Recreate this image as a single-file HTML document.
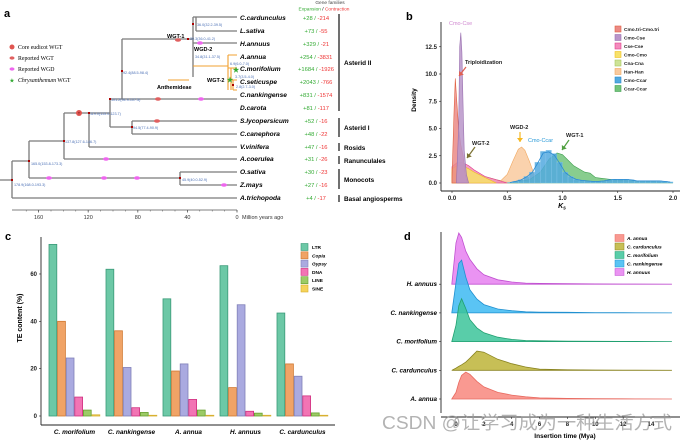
<!DOCTYPE html>
<html><head><meta charset="utf-8"><style>
html,body{margin:0;padding:0;background:#fff;}
svg{display:block;font-family:"Liberation Sans","Noto Sans CJK SC",sans-serif;}
.sp{font-weight:bold;font-style:italic;font-size:6.6px;}
.nl{font-size:3.7px;fill:#4a6fb5;}
.gf{font-size:5.8px;}
.cl{font-weight:bold;font-size:6.4px;}
.br{stroke:#7a7a7a;stroke-width:1.3;fill:none;}
.or{stroke:#f0a030;stroke-width:1.1;fill:none;}
.tk{font-size:6px;font-weight:bold;fill:#222;}
</style></head><body>
<svg id="fig" width="685" height="440" viewBox="0 0 685 440">
<g id="pa">
<text x="4" y="17" font-size="11" font-weight="bold">a</text>
<g>
<path class="br" d="M0 180H12M12 161V198M12 198H237M12 161H29M29 141V178M29 178H180M180 172V185M180 172H237M180 185H237M29 141H64M64 113V159M64 159H237M64 113H110M89 113V147M89 147H237M110 99V127M110 127H132M132 121V134M132 121H237M132 134H237M110 99H122M122 39V99M122 99H237M122 39H188M188 39H193M193 17V77M193 17H237M196 17V31M196 31H237M193 43H237"/>
<path class="or" d="M193 66H228M228 55V90M228 55H237M228 68H237M231 68V90M231 80H237M233 80V90M233 90H237M168 80H188"/>
</g>
<g>
<circle cx="79" cy="113" r="3" fill="#e05550"/><text x="79" y="114.5" font-size="4" text-anchor="middle" fill="#600">T</text>
<ellipse cx="178" cy="40" rx="3" ry="1.8" fill="#e06060"/>
<ellipse cx="200" cy="43" rx="3" ry="1.8" fill="#ee66ee"/>
<ellipse cx="158" cy="99" rx="3" ry="1.8" fill="#e06060"/>
<ellipse cx="201" cy="99" rx="3" ry="1.8" fill="#ee66ee"/>
<ellipse cx="157" cy="121" rx="3" ry="1.8" fill="#e06060"/>
<ellipse cx="106" cy="159" rx="3" ry="1.8" fill="#ee66ee"/>
<ellipse cx="49" cy="178" rx="3" ry="1.8" fill="#ee66ee"/>
<ellipse cx="104" cy="178" rx="3" ry="1.8" fill="#ee66ee"/>
<ellipse cx="137" cy="178" rx="3" ry="1.8" fill="#ee66ee"/>
<ellipse cx="224" cy="185" rx="3" ry="1.8" fill="#ee66ee"/>
<text x="236" y="72" font-size="7" fill="#3a3" text-anchor="middle">★</text>
<text x="230" y="82" font-size="7" fill="#3a3" text-anchor="middle">★</text>
<g fill="#a00"><rect x="11" y="179" width="2" height="2"/><rect x="28" y="160" width="2" height="2"/><rect x="63" y="140" width="2" height="2"/><rect x="88" y="112" width="2" height="2"/><rect x="109" y="98" width="2" height="2"/><rect x="121" y="70" width="2" height="2"/><rect x="131" y="126" width="2" height="2"/><rect x="179" y="177" width="2" height="2"/><rect x="187" y="38" width="2" height="2"/><rect x="192" y="23" width="2" height="2"/><rect x="232" y="84" width="2" height="2"/></g>
</g>
<g>
<text class="nl" x="197" y="26">36.0(32.2-39.5)</text>
<text class="nl" x="190" y="40">39.3(36.0-41.2)</text>
<text class="nl" x="195" y="58">34.8(31.1-37.5)</text>
<text class="nl" x="230" y="65">6.9(6.0-7.0)</text>
<text class="nl" x="235" y="78">3.7(3.5-4.0)</text>
<text class="nl" x="236" y="88">2.8(2.7-3.0)</text>
<text class="nl" x="123" y="74">92.4(88.5-98.4)</text>
<text class="nl" x="111" y="101">101.2(94.9-107.5)</text>
<text class="nl" x="90" y="115">119.0(115.0-123.7)</text>
<text class="nl" x="133" y="129">94.5(77.4-90.9)</text>
<text class="nl" x="65" y="143">137.8(127.6-146.7)</text>
<text class="nl" x="31" y="165">165.0(153.8-173.3)</text>
<text class="nl" x="14" y="186">178.9(168.0-193.3)</text>
<text class="nl" x="182" y="181">45.9(40.0-52.9)</text>
</g>
<g font-size="5.5" font-weight="bold">
<text x="167" y="38">WGT-1</text><text x="194" y="51">WGD-2</text><text x="207" y="82">WGT-2</text>
<line x1="168" y1="80" x2="189" y2="80" stroke="#f0a030" stroke-width="0.9"/>
<text x="157" y="89">Anthemideae</text>
</g>
<g font-family="Liberation Serif,serif" font-size="5.8">
<circle cx="12" cy="47" r="2.5" fill="#e05550"/><text x="18" y="49">Core eudicot WGT</text>
<ellipse cx="12" cy="58" rx="2.5" ry="1.6" fill="#e06060"/><text x="18" y="60">Reported WGT</text>
<ellipse cx="12" cy="69" rx="2.5" ry="1.6" fill="#ee66ee"/><text x="18" y="71">Reported WGD</text>
<text x="12" y="82.5" font-size="6" fill="#3a3" text-anchor="middle">★</text><text x="18" y="82"><tspan font-style="italic">Chrysanthemum</tspan> WGT</text>
</g>
<g>
<text class="sp" x="240" y="20">C.carduncul‌us</text><text class="sp" x="240" y="33">L.sativa</text><text class="sp" x="240" y="46">H.annuus</text><text class="sp" x="240" y="59">A.annua</text><text class="sp" x="240" y="71">C.morifolium</text><text class="sp" x="240" y="84">C.seticuspe</text><text class="sp" x="240" y="97">C.nankingense</text><text class="sp" x="240" y="110">D.carota</text><text class="sp" x="240" y="123">S.lycopersicum</text><text class="sp" x="240" y="136">C.canephora</text><text class="sp" x="240" y="149">V.vinifera</text><text class="sp" x="240" y="161">A.coerulea</text><text class="sp" x="240" y="174">O.sativa</text><text class="sp" x="240" y="187">Z.mays</text><text class="sp" x="240" y="200">A.trichopoda</text>
</g>
<g class="gf" text-anchor="middle">
<text x="330" y="4" font-size="4.8" fill="#444">Gene families</text>
<text x="324" y="10.5" font-size="4.8"><tspan fill="#3a3">Expansion</tspan> / <tspan fill="#e33">Contraction</tspan></text>
</g>
<g id="gfc" class="gf" text-anchor="middle"></g>
<g stroke="#111" stroke-width="1.2">
<line x1="339" y1="14" x2="339" y2="111"/><line x1="339" y1="118" x2="339" y2="137"/><line x1="339" y1="143" x2="339" y2="151"/><line x1="339" y1="156" x2="339" y2="164"/><line x1="339" y1="169" x2="339" y2="189"/><line x1="339" y1="195" x2="339" y2="202"/>
</g>
<g class="cl">
<text x="344" y="65">Asterid II</text><text x="344" y="130">Asterid I</text><text x="344" y="150">Rosids</text><text x="344" y="163">Ranunculales</text><text x="344" y="182">Monocots</text><text x="344" y="201">Basal angiosperms</text>
</g>
<g id="ataxis"></g>
</g>
<g id="pb">
<text x="406" y="20" font-size="11" font-weight="bold">b</text>
<text transform="translate(416,100) rotate(-90)" font-size="6.5" font-weight="bold" text-anchor="middle">Density</text>
<g id="bplot"></g>
</g>
<g id="pc">
<text x="5" y="240" font-size="11" font-weight="bold">c</text>
<text transform="translate(22,318) rotate(-90)" font-size="7" font-weight="bold" text-anchor="middle">TE content (%)</text>
<g id="cplot"></g>
</g>
<g id="pd">
<text x="404" y="240" font-size="11" font-weight="bold">d</text>
<g id="dplot"></g>
<text x="565" y="438" font-size="6.5" font-weight="bold" text-anchor="middle">Insertion time (Mya)</text>
</g>
<text x="382" y="429" font-size="18" fill="#9a9a9a" fill-opacity="0.75" textLength="290" lengthAdjust="spacingAndGlyphs">CSDN @让学习成为一种生活方式</text>
</svg>
<script>
const NS='http://www.w3.org/2000/svg';
function mk(tag,attrs,parent){const e=document.createElementNS(NS,tag);for(const k in attrs)e.setAttribute(k,attrs[k]);parent.appendChild(e);return e;}

const gfRows=[20,33,46,59,71,84,97,110,123,136,149,161,174,187,200];
const gfExp=['+28','+73','+329','+254','+1684','+2043','+831','+81','+52','+48','+47','+31','+30','+27','+4'];
const gfCon=['-214','-55','-21','-3831','-1926','-766','-1574','-117','-16','-22','-16','-26','-23','-16','-17'];
const timeTicks=[160,120,80,40,0];
(function(){
 document.querySelector('.sp').textContent='C.carduncul'+'us';
 const g=document.getElementById('gfc');
 gfRows.forEach((y,i)=>{const t=mk('text',{x:316,y:y},g);
  
  
  const a=mk('tspan',{fill:'#3a3'},t);a.textContent=gfExp[i]+' / ';
  const b=mk('tspan',{fill:'#e33'},t);b.textContent=gfCon[i];});
 const ax=document.getElementById('ataxis');
 const tx=t=>237-t*1.24;
 mk('line',{x1:12,y1:210,x2:237,y2:210,stroke:'#555','stroke-width':0.8},ax);
 timeTicks.forEach(t=>{mk('line',{x1:tx(t),y1:210,x2:tx(t),y2:212.5,stroke:'#555','stroke-width':0.8},ax);
  const l=mk('text',{x:tx(t),y:219,'font-size':5.5,'text-anchor':'middle',fill:'#333'},ax);
  
  
  l.textContent=t;});
 for(let t=170;t>=0;t-=10)mk('line',{x1:tx(t),y1:210,x2:tx(t),y2:211.5,stroke:'#555','stroke-width':0.5},ax);
 const m=mk('text',{x:242,y:219,'font-size':5.5,fill:'#333'},ax);m.textContent='Million years ago';
})();

const bSeriesNames=['Cmo.tri-Cmo.tri','Cmo-Cse','Cse-Cse','Cmo-Cmo','Cna-Cna','Han-Han','Cmo-Ccar','Ccar-Ccar'];
const bFill=['#eb8a86','#b995c9','#f48bbd','#f7e26a','#cde397','#f9ca9f','#52a9df','#73c47a'];
const bStroke=['#e06040','#9a70b0','#e0408a','#f0c020','#a8c860','#f0a860','#2a8ad0','#40a050'];
const ksTicks=[0.0,0.5,1.0,1.5,2.0];
const densTicks=[0.0,2.5,5.0,7.5,10.0,12.5];
const ksCnaCna=[0,0.05,0.1,0.15,0.2,0.3,0.4,0.5,0.6];
const dCnaCna=[1.0,1.25,1.3,1.2,1.0,0.6,0.3,0.1,0];
const ksCmoCmo=[0,0.05,0.1,0.15,0.2,0.3,0.4];
const dCmoCmo=[1.3,1.6,1.55,1.3,1.0,0.5,0];
const ksCseCse=[0,0.05,0.1,0.15,0.2,0.3,0.4,0.5];
const dCseCse=[1.5,1.9,1.85,1.6,1.2,0.6,0.3,0];
const ksHanHan=[0.42,0.5,0.55,0.6,0.63,0.66,0.7,0.75,0.8];
const dHanHan=[0,0.8,2.0,3.1,3.3,3.0,2.0,0.6,0];
const ksCcarCcar=[0.5,0.7,0.8,0.88,0.95,1.0,1.1,1.2,1.25,1.3,1.5,1.8,2.0];
const dCcarCcar=[0,0.3,1.0,2.2,2.75,2.6,1.6,1.0,0.9,0.5,0.25,0.15,0];
const ksCmoCcarBins=[0.5,0.55,0.6,0.65,0.7,0.75,0.8,0.85,0.9,0.95,1.0,1.05,1.1,1.15,1.2,1.25,1.3,1.35,1.4,1.45,1.5,1.55,1.6,1.65,1.7,1.75,1.8,1.85,1.9,1.95];
const dCmoCcar=[0.05,0.15,0.3,0.6,1.0,1.9,2.9,3.0,2.7,1.9,1.0,0.6,0.35,0.25,0.2,0.15,0.15,0.2,0.3,0.35,0.35,0.35,0.3,0.2,0.2,0.2,0.2,0.2,0.15,0.1];
const ksCmoTri=[0,0.02,0.03,0.04,0.06,0.08,0.1,0.12,0.14];
const dCmoTri=[0.5,7,9.6,8,5,3.5,2.5,0.8,0];
const ksCmoCse=[0.04,0.06,0.07,0.08,0.09,0.1,0.11,0.13,0.15];
const dCmoCse=[0,5,12.5,13.8,12,7,3,0.8,0];
(function(){
 const g=document.getElementById('bplot');
 const X=k=>452+k*110.5, Y=d=>183-d*10.9;
 function area(ks,ds,i,name){
  let p='M'+X(ks[0])+' '+Y(0);
  ks.forEach((k,j)=>p+='L'+X(k).toFixed(1)+' '+Y(ds[j]).toFixed(1));
  p+='L'+X(ks[ks.length-1])+' '+Y(0)+'Z';
  const e=mk('path',{d:p,fill:bFill[i],'fill-opacity':0.85,stroke:bStroke[i],'stroke-width':0.6},g);
  
  
 }
 area(ksCnaCna,dCnaCna,4,'density-cna-cna');
 area(ksHanHan,dHanHan,5,'density-han-han');
 area(ksCcarCcar,dCcarCcar,7,'density-ccar-ccar');
 ksCmoCcarBins.forEach((k,j)=>{const r=mk('rect',{x:X(k),y:Y(dCmoCcar[j]),width:X(0.05)-X(0),height:Y(0)-Y(dCmoCcar[j]),fill:bFill[6],'fill-opacity':0.85,stroke:'#8cc8ee','stroke-width':0.3},g);
  
  });
 let lp='';ksCmoCcarBins.forEach((k,j)=>lp+=(j?'L':'M')+(X(k+0.025)).toFixed(1)+' '+Y(dCmoCcar[j]*0.95).toFixed(1));
 const ln=mk('path',{d:lp,fill:'none',stroke:'#2a8ad0','stroke-width':0.8},g);
 
 
 area(ksCseCse,dCseCse,2,'density-cse-cse');
 area(ksCmoCmo,dCmoCmo,3,'density-cmo-cmo');
 area(ksCmoTri,dCmoTri,0,'density-cmo-tri');
 area(ksCmoCse,dCmoCse,1,'density-cmo-cse');
 mk('line',{x1:441,y1:22,x2:441,y2:191,stroke:'#222','stroke-width':0.9},g);
 mk('line',{x1:441,y1:191,x2:680,y2:191,stroke:'#222','stroke-width':0.9},g);
 densTicks.forEach(d=>{mk('line',{x1:439,y1:Y(d),x2:441,y2:Y(d),stroke:'#222','stroke-width':0.6},g);
  const t=mk('text',{x:437,y:Y(d)+2,'text-anchor':'end',class:'tk'},g);
  
  
  t.textContent=d.toFixed(1);});
 ksTicks.forEach(k=>{mk('line',{x1:X(k),y1:191,x2:X(k),y2:193,stroke:'#222','stroke-width':0.6},g);
  const t=mk('text',{x:X(k),y:200,'text-anchor':'middle',class:'tk'},g);
  
  
  t.textContent=k.toFixed(1);});
 const kt=mk('text',{x:562,y:208,'font-size':7,'font-weight':'bold','font-style':'italic','text-anchor':'middle'},g);
 kt.innerHTML='K<tspan font-size="5" dy="1.5">s</tspan>';
 const ann=[['Cmo-Cse',449,25,'#d08ad0',false],['Triploidization',465,64,'#222',true],['WGT-2',472,145,'#222',true],['WGD-2',510,129,'#222',true],['Cmo-Ccar',528,142,'#2a9ad8',false],['WGT-1',566,137,'#222',true]];
 ann.forEach(a=>{const t=mk('text',{x:a[1],y:a[2],'font-size':5.5,fill:a[3],'font-weight':a[4]?'bold':'normal'},g);
  
  
  t.textContent=a[0];});
 const arr=[[466,67,459,76,'#e06050'],[475,147,467,158,'#7a7030'],[520,132,520,142,'#f5b820'],[569,140,562,150,'#50a040']];
 arr.forEach(a=>{mk('line',{x1:a[0],y1:a[1],x2:a[2],y2:a[3],stroke:a[4],'stroke-width':1.2},g);
  const dx=a[2]-a[0],dy=a[3]-a[1],L=Math.hypot(dx,dy),ux=dx/L,uy=dy/L;
  mk('path',{d:`M${a[2]} ${a[3]}L${a[2]-ux*4-uy*3} ${a[3]-uy*4+ux*3}L${a[2]-ux*4+uy*3} ${a[3]-uy*4-ux*3}Z`,fill:a[4]},g);});
 bSeriesNames.forEach((n,i)=>{const y=29+i*8.5;
  mk('rect',{x:615,y:y-3,width:6,height:6,fill:bFill[i],stroke:bStroke[i],'stroke-width':0.6},g);
  const t=mk('text',{x:624,y:y+2,'font-size':4.8,'font-weight':'bold',fill:'#222'},g);
  
  
  t.textContent=n;});
})();

const cSpecies=['C. morifolium','C. nankingense','A. annua','H. annuus','C. cardunculus'];
const cTypes=['LTR','Copia','Gypsy','DNA','LINE','SINE'];
const cLTR=[72.5,62,49.5,63.5,43.5];
const cCopia=[40,36,19,12,22];
const cGypsy=[24.5,20.5,22,47,16.8];
const cDNA=[8,3.5,7,2,8.5];
const cLINE=[2.5,1.5,2.5,1.2,1.3];
const cSINE=[0.5,0.3,0.3,0.3,0.3];
const cTicks=[0,20,40,60];
const cFill=['#6cc8a6','#f0a366','#aaaae0','#f274b4','#9ccb66','#f5d35a'];
const cStroke=['#3a9a78','#d07830','#8080b8','#d03080','#68a030','#d8b030'];
(function(){
 const g=document.getElementById('cplot');
 const vals=[cLTR,cCopia,cGypsy,cDNA,cLINE,cSINE];
 const Y=v=>416-v*2.367, bw=8.6, gx=i=>49+i*57;
 vals.forEach((arr,t)=>arr.forEach((v,i)=>{
  const r=mk('rect',{x:gx(i)+t*bw,y:Y(v),width:bw-0.8,height:Y(0)-Y(v),fill:cFill[t],stroke:cStroke[t],'stroke-width':0.8},g);
  
  }));
 mk('line',{x1:41,y1:237,x2:41,y2:425,stroke:'#222','stroke-width':0.9},g);
 mk('line',{x1:41,y1:425,x2:335,y2:425,stroke:'#222','stroke-width':0.9},g);
 cTicks.forEach(v=>{mk('line',{x1:39,y1:Y(v),x2:41,y2:Y(v),stroke:'#222','stroke-width':0.6},g);
  const t=mk('text',{x:37,y:Y(v)+2,'text-anchor':'end',class:'tk'},g);
  
  
  t.textContent=v;});
 cSpecies.forEach((s,i)=>{const t=mk('text',{x:gx(i)+25.5,y:434,'text-anchor':'middle','font-size':6.4,'font-weight':'bold','font-style':'italic'},g);
  
  
  t.textContent=s;});
 cTypes.forEach((n,i)=>{const y=247+i*8.3;
  mk('rect',{x:301,y:y-3.5,width:7,height:7,fill:cFill[i],stroke:cStroke[i],'stroke-width':0.6},g);
  const t=mk('text',{x:312,y:y+2,'font-size':4.8,'font-weight':'bold','font-style':(i==1||i==2)?'italic':'normal'},g);
  
  
  t.textContent=n;});
})();

const dSpecies=['A. annua','C. cardunculus','C. morifolium','C. nankingense','H. annuus'];
const dTimes=[-0.3,0,0.2,0.4,0.7,1,1.5,2,3,4,5,6,8,10,12,15.5];
const dAannua=[0,0.12,0.3,0.43,0.49,0.45,0.32,0.22,0.12,0.07,0.04,0.02,0.01,0.005,0.003,0];
const dCcard=[0,0.04,0.07,0.1,0.15,0.22,0.35,0.33,0.2,0.12,0.06,0.02,0.01,0.005,0.003,0];
const dCmor=[0,0.3,0.65,0.78,0.6,0.4,0.25,0.16,0.08,0.04,0.02,0.015,0.01,0.005,0.003,0];
const dCnank=[0,0.55,0.9,0.96,0.65,0.42,0.25,0.15,0.07,0.04,0.02,0.015,0.01,0.005,0.003,0];
const dHann=[0,0.75,0.93,0.85,0.6,0.45,0.28,0.17,0.08,0.04,0.02,0.015,0.01,0.005,0.003,0];
const dTicks=[0,2,4,6,8,10,12,14];
const dFill=['#f8877e','#bdb438','#3cc49a','#3dbaf2','#e680f0'];
const dStroke=['#e86a60','#8a8420','#20a070','#2090d0','#c050d0'];
(function(){
 const g=document.getElementById('dplot');
 const vals=[dAannua,dCcard,dCmor,dCnank,dHann];
 const X=t=>456+t*13.93, base=i=>399-i*28.7, S=55;
 for(let i=vals.length-1;i>=0;i--){
  let p='M'+X(dTimes[0])+' '+base(i);
  dTimes.forEach((t,j)=>p+='L'+X(t).toFixed(1)+' '+(base(i)-vals[i][j]*S).toFixed(1));
  p+='L'+X(dTimes[dTimes.length-1])+' '+base(i)+'Z';
  const e=mk('path',{d:p,fill:dFill[i],'fill-opacity':0.85,stroke:dStroke[i],'stroke-width':0.8},g);
  
  
 }
 mk('line',{x1:441,y1:232,x2:441,y2:413,stroke:'#222','stroke-width':0.9},g);
 mk('line',{x1:441,y1:417,x2:680,y2:417,stroke:'#222','stroke-width':0.9},g);
 dSpecies.forEach((s,i)=>{mk('line',{x1:439,y1:base(i),x2:441,y2:base(i),stroke:'#222','stroke-width':0.6},g);
  const t=mk('text',{x:437,y:base(i)+2,'text-anchor':'end','font-size':6.3,'font-weight':'bold','font-style':'italic'},g);
  
  
  t.textContent=s;});
 dTicks.forEach(v=>{mk('line',{x1:X(v),y1:417,x2:X(v),y2:419,stroke:'#222','stroke-width':0.6},g);
  const t=mk('text',{x:X(v),y:426,'text-anchor':'middle',class:'tk'},g);
  
  
  t.textContent=v;});
 dSpecies.forEach((n,i)=>{const y=238+i*8.5;
  mk('rect',{x:615,y:y-3.5,width:9,height:7,fill:dFill[i],stroke:dStroke[i],'stroke-width':0.5,'fill-opacity':0.85},g);
  const t=mk('text',{x:627,y:y+2,'font-size':4.8,'font-weight':'bold','font-style':'italic'},g);
  
  
  t.textContent=n;});
})();
</script>
</body></html>
